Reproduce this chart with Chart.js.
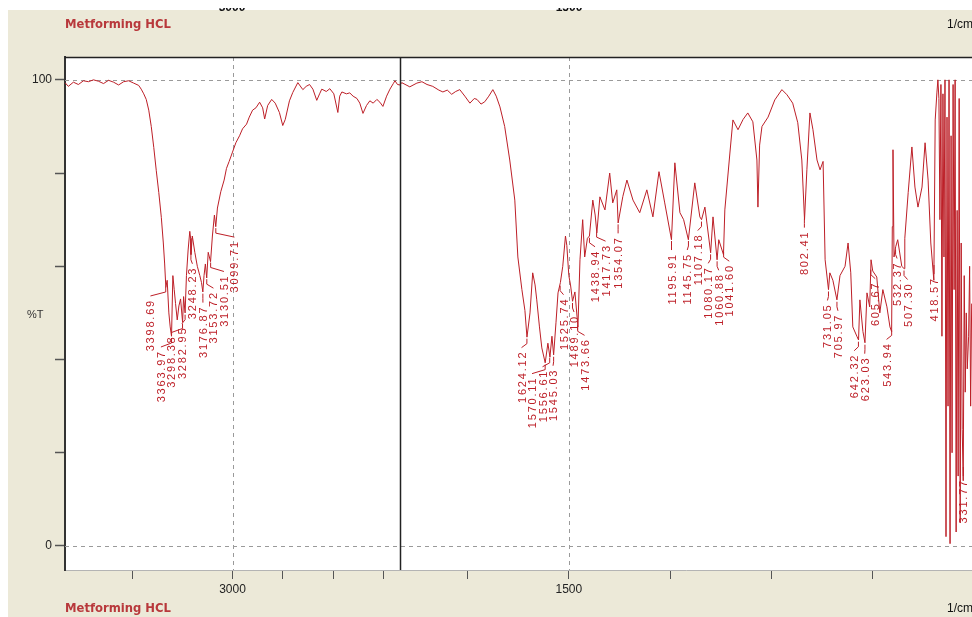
<!DOCTYPE html>
<html>
<head>
<meta charset="utf-8">
<title>Metforming HCL - IR spectrum</title>
<script src="https://cdn.jsdelivr.net/npm/chart.js@4.4.1/dist/chart.umd.min.js"></script>
<style>
  html, body { margin: 0; padding: 0; background: #fff; }
  #wrap { width: 972px; height: 617px; }
</style>
</head>
<body>
<div id="wrap"><canvas id="irChart" width="972" height="617"></canvas></div>
<script>
// wavenumber (1/cm) and transmittance (%T)
// left panel 4000-2000, right panel 2000-306 (expanded scale)
const wnLeft = [4000, 3980, 3950, 3920, 3890, 3860, 3830, 3800, 3770, 3740, 3710, 3680, 3650, 3620, 3590, 3560,
  3545, 3530, 3515, 3500, 3485, 3470, 3455, 3440, 3425, 3413, 3405, 3398, 3390, 3380, 3372, 3364, 3356, 3348,
  3340, 3330, 3320, 3310, 3298, 3292, 3283, 3275, 3265, 3255, 3250, 3248, 3240, 3225, 3210, 3195, 3185, 3177,
  3170, 3162, 3154, 3145, 3131, 3120, 3108, 3100, 3090, 3070, 3050, 3036, 3020, 3000, 2980, 2958, 2940, 2916,
  2900, 2880, 2860, 2838, 2820, 2808, 2790, 2766, 2745, 2720, 2700, 2685, 2660, 2640, 2610, 2580, 2560, 2540,
  2520, 2497, 2480, 2467, 2440, 2419, 2395, 2371, 2360, 2347, 2320, 2300, 2280, 2257, 2240, 2221, 2200, 2180,
  2160, 2138, 2120, 2102, 2080, 2060, 2040, 2030, 2015, 2000];
const tLeft = [99.4, 98.6, 99.5, 99.0, 99.8, 99.6, 100.0, 99.7, 99.2, 99.9, 99.5, 98.9, 99.6, 99.8, 99.3, 98.8,
  98.0, 97.0, 95.8, 93.5, 90.0, 85.5, 80.5, 75.8, 70.5, 65.0, 60.5, 55.5, 57.0, 50.0, 47.0, 45.0, 58.0, 55.0,
  52.0, 48.5, 51.5, 53.0, 48.0, 53.5, 50.0, 58.0, 63.5, 67.5, 66.0, 62.5, 66.5, 63.0, 60.0, 58.0, 56.5, 54.5,
  58.0, 60.5, 57.5, 63.0, 61.0, 66.5, 71.0, 68.5, 72.5, 76.0, 78.5, 81.0, 82.5, 84.5, 86.5, 88.0, 89.5, 90.5,
  92.0, 93.5, 94.0, 95.2, 94.0, 91.6, 94.5, 95.8, 95.0, 93.0, 90.2, 91.5, 95.5, 97.3, 99.4, 97.9, 98.6, 99.0,
  98.0, 95.6, 97.0, 98.0, 97.5, 98.1, 97.0, 93.0, 96.5, 97.4, 97.0, 97.2, 96.5, 96.0, 95.0, 92.8, 94.5, 95.5,
  95.0, 95.8, 95.2, 94.3, 96.5, 98.0, 99.2, 99.8, 99.0, 98.9];

const wnRight = [2000, 1995, 1971, 1950, 1935, 1920, 1903, 1885, 1873, 1860, 1847, 1835, 1823, 1808, 1793, 1780,
  1772, 1760, 1749, 1737, 1725, 1715, 1704, 1690, 1675, 1660, 1651, 1639, 1630, 1624, 1615, 1607, 1600, 1595,
  1587, 1580, 1570, 1562, 1556, 1550, 1545, 1538, 1532, 1525, 1518, 1510, 1506, 1500, 1495, 1489, 1482, 1473,
  1467, 1459, 1453, 1445, 1439, 1429, 1422, 1417, 1408, 1393, 1379, 1370, 1358, 1354, 1340, 1328, 1310, 1290,
  1269, 1251, 1233, 1216, 1196, 1186, 1171, 1160, 1146, 1127, 1112, 1107, 1097, 1080, 1073, 1061, 1056, 1042,
  1038, 1023, 1014, 999, 984, 970, 955, 943, 940, 935, 928, 910, 890, 869, 854, 837, 822, 810, 802, 795, 786,
  777, 765, 756, 747, 741, 731, 727, 718, 706, 697, 682, 673, 665, 659, 647, 642, 638, 629, 623, 617, 609, 605,
  600, 588, 579, 570, 558, 549, 544, 542, 540, 537, 532, 526, 514, 507, 505, 495, 484, 475, 466, 454, 445, 436,
  428, 419, 415, 410, 407, 404, 401, 398, 395, 392, 389, 386, 383, 380, 377, 374, 371, 368, 365, 362, 359, 356,
  353, 350, 347, 344, 341, 338, 335, 332, 329, 326, 323, 320, 316, 313, 310, 307];
const tRight = [98.9, 99.4, 98.5, 99.3, 99.6, 99.0, 98.6, 97.8, 97.4, 97.8, 96.9, 97.5, 97.9, 96.5, 95.0, 96.0,
  95.8, 94.8, 95.3, 96.5, 97.9, 96.5, 94.2, 90.0, 82.8, 74.2, 62.0, 55.0, 50.5, 44.8, 50.0, 58.6, 56.0, 52.8,
  47.0, 42.5, 39.3, 43.5, 40.5, 45.0, 41.0, 48.0, 54.3, 56.5, 60.0, 66.5, 64.5, 58.0, 56.0, 52.5, 54.5, 47.0,
  61.4, 70.0, 62.0, 66.0, 66.5, 74.2, 71.0, 67.2, 74.9, 72.1, 80.0, 73.6, 76.4, 69.3, 75.0, 78.5, 74.2, 71.5,
  76.4, 70.6, 80.3, 73.6, 65.7, 82.2, 71.5, 70.0, 65.7, 77.9, 70.6, 70.0, 72.7, 62.9, 70.6, 61.4, 65.7, 62.5,
  72.1, 84.3, 91.4, 89.3, 91.5, 92.9, 91.0, 82.8, 72.7, 86.0, 90.0, 92.0, 95.7, 97.9, 96.8, 95.0, 90.8, 82.8, 70.0, 80.7, 92.9,
  89.3, 82.8, 80.7, 82.5, 61.4, 55.0, 58.6, 57.0, 52.8, 58.0, 60.0, 65.0, 58.6, 47.0, 45.0, 44.2, 52.8, 46.0, 43.6, 54.3, 51.3, 61.4,
  59.0, 57.7, 50.0, 55.0, 51.3, 47.0, 46.0, 68.5, 85.0, 62.0, 64.2, 65.7, 60.0, 59.5, 66.0, 75.8, 85.6, 77.0, 72.7, 77.0, 86.5, 78.5,
  65.0, 57.0, 91.4, 97.2, 100.0, 96.0, 70.0, 99.0, 45.0, 97.0, 62.0, 100.0, 2.0, 92.0, 30.0, 100.0, 0.5, 88.0, 20.0, 99.0, 55.0, 100.0,
  3.0, 72.0, 15.0, 96.0, 5.0, 65.0, 25.0, 14.0, 58.0, 33.0, 50.0, 38.0, 45.0, 60.0, 30.0, 52.0];

// peak picks printed on the spectrum
const peaksLeft = [3398.69, 3363.97, 3298.38, 3282.95, 3248.23, 3176.87, 3153.72, 3130.51, 3099.71];
const peaksRight = [1624.12, 1570.11, 1556.61, 1545.03, 1525.74, 1489.10, 1473.66, 1438.94, 1417.73, 1354.07,
  1195.91, 1145.75, 1107.18, 1080.17, 1060.88, 1041.60, 802.41, 731.05, 705.97, 642.32, 623.03, 605.67,
  543.94, 532.37, 507.30, 418.57, 331.77];

const xTicksLeft = [3600, 3000, 2700, 2400, 2100];
const xTicksRight = [1800, 1500, 1200, 900, 600];
const xLabelled = [3000, 1500];
const yTicks = [0, 20, 40, 60, 80, 100];
const yLabelled = [0, 100];
const xGridLines = [3000, 1500];
const yGridLines = [0, 100];

const RED = '#bd1f27';
const BEIGE = '#ece9d8';

function toPoints(xs, ys) {
  return xs.map((x, i) => ({ x: x, y: ys[i] }));
}

// linear interpolation of %T at a wavenumber (arrays run high -> low)
function tAt(xs, ys, w) {
  for (let i = 0; i < xs.length - 1; i++) {
    if (xs[i] >= w && w >= xs[i + 1]) {
      const f = (xs[i] - w) / (xs[i] - xs[i + 1]);
      return ys[i] + f * (ys[i + 1] - ys[i]);
    }
  }
  return ys[ys.length - 1];
}

// push label columns apart so they don't overlap, keeping each cluster centred
function spread(xs, gap) {
  const groups = [];
  xs.forEach(x => {
    groups.push({ sum: x, n: 1, start: x });
    while (groups.length > 1) {
      const b = groups[groups.length - 1];
      const a = groups[groups.length - 2];
      if (a.start + a.n * gap > b.start) {
        a.sum += b.sum;
        a.n += b.n;
        a.start = a.sum / a.n - (a.n - 1) * gap / 2;
        groups.pop();
      } else break;
    }
  });
  const out = [];
  groups.forEach(g => { for (let k = 0; k < g.n; k++) out.push(g.start + k * gap); });
  return out;
}

const decor = {
  id: 'decor',
  beforeDraw(chart) {
    const { ctx, width, height } = chart;
    ctx.save();
    ctx.fillStyle = '#fff';
    ctx.fillRect(0, 0, width, height);
    ctx.fillStyle = BEIGE;
    ctx.fillRect(8, 10, width - 8, height - 10);

    const a = chart.chartArea;
    ctx.fillStyle = '#fff';
    ctx.fillRect(a.left, a.top, a.right - a.left, a.bottom - a.top);

    // cut-off axis numbers from the page above
    ctx.save();
    ctx.beginPath();
    ctx.rect(0, 8, width, 3);
    ctx.clip();
    ctx.fillStyle = '#111';
    ctx.font = 'bold 12px "Liberation Sans", Arial, sans-serif';
    ctx.textAlign = 'center';
    ctx.textBaseline = 'alphabetic';
    ctx.fillText('3000', 232, 11);
    ctx.fillText('1500', 569, 11);
    ctx.restore();

    ctx.fillStyle = '#b8383b';
    ctx.font = 'bold 11.6px "DejaVu Sans", Verdana, sans-serif';
    ctx.textAlign = 'left';
    ctx.textBaseline = 'middle';
    ctx.fillText('Metforming HCL', 65, 25);
    ctx.fillText('Metforming HCL', 65, 609);

    ctx.fillStyle = '#111';
    ctx.font = '12px "Liberation Sans", Arial, sans-serif';
    ctx.textAlign = 'right';
    ctx.fillText('1/cm', 973, 25);
    ctx.fillText('1/cm', 973, 609);

    ctx.fillStyle = '#333';
    ctx.font = '11px "Liberation Sans", Arial, sans-serif';
    ctx.textAlign = 'left';
    ctx.fillText('%T', 27, 315);
    ctx.restore();
  },
  beforeDatasetsDraw(chart) {
    const { ctx } = chart;
    const a = chart.chartArea;
    const y = chart.scales.y, xL = chart.scales.xL, xR = chart.scales.xR;
    ctx.save();
    ctx.strokeStyle = '#9a9a9a';
    ctx.lineWidth = 1;
    ctx.setLineDash([4, 4]);
    yGridLines.forEach(v => {
      const py = Math.round(y.getPixelForValue(v)) + 0.5;
      ctx.beginPath();
      ctx.moveTo(a.left, py);
      ctx.lineTo(a.right, py);
      ctx.stroke();
    });
    xGridLines.forEach(v => {
      const sc = v >= 2000 ? xL : xR;
      const px = Math.round(sc.getPixelForValue(v)) + 0.5;
      ctx.beginPath();
      ctx.moveTo(px, a.top);
      ctx.lineTo(px, a.bottom);
      ctx.stroke();
    });
    ctx.restore();
  },
  afterDatasetsDraw(chart) {
    const { ctx } = chart;
    const a = chart.chartArea;
    const y = chart.scales.y, xL = chart.scales.xL, xR = chart.scales.xR;
    ctx.save();
    // frame: top edge and the 2000 1/cm scale break
    ctx.strokeStyle = '#222';
    ctx.lineWidth = 1.5;
    ctx.beginPath();
    ctx.moveTo(a.left, a.top + 0.5);
    ctx.lineTo(a.right, a.top + 0.5);
    ctx.stroke();
    const bx = Math.round(xR.getPixelForValue(2000)) + 0.5;
    ctx.beginPath();
    ctx.moveTo(bx, a.top);
    ctx.lineTo(bx, a.bottom);
    ctx.stroke();

    // peak labels
    ctx.font = '11px "Liberation Sans", Arial, sans-serif';
    if ('letterSpacing' in ctx) ctx.letterSpacing = '1.8px';
    ctx.fillStyle = RED;
    ctx.strokeStyle = RED;
    ctx.lineWidth = 1;
    const groups = [
      { peaks: peaksLeft, sc: xL, xs: wnLeft, ys: tLeft },
      { peaks: peaksRight, sc: xR, xs: wnRight, ys: tRight }
    ];
    groups.forEach(g => {
      const pts = g.peaks.map(p => ({
        p: p,
        px: g.sc.getPixelForValue(p),
        py: y.getPixelForValue(tAt(g.xs, g.ys, p))
      })).sort((m, n) => m.px - n.px);
      const lx = spread(pts.map(o => o.px), 10.5);
      pts.forEach((o, i) => {
        const top = o.py + 14;
        ctx.beginPath();
        ctx.moveTo(o.px, o.py + 2);
        ctx.lineTo(o.px, o.py + 7);
        ctx.lineTo(lx[i], o.py + 11);
        ctx.stroke();
        ctx.save();
        ctx.translate(lx[i] + 4, top);
        ctx.rotate(-Math.PI / 2);
        ctx.textAlign = 'right';
        ctx.textBaseline = 'alphabetic';
        ctx.fillText(o.p.toFixed(2), 0, 0);
        ctx.restore();
      });
    });
    ctx.restore();
  }
};

const tickFont = { family: '"Liberation Sans", Arial, sans-serif', size: 12 };

function xAxis(min, max, ticks, weight) {
  return {
    type: 'linear',
    position: 'bottom',
    stack: 'wn',
    stackWeight: weight,
    reverse: true,
    min: min,
    max: max,
    afterBuildTicks: s => { s.ticks = ticks.map(v => ({ value: v })); },
    afterFit: s => { s.height = 47; },
    grid: { drawOnChartArea: false, drawTicks: true, tickLength: 9, tickColor: '#555', tickWidth: 1 },
    border: { color: '#b4b4b4', width: 1 },
    ticks: {
      autoSkip: false,
      maxRotation: 0,
      padding: 3,
      color: '#222',
      font: tickFont,
      callback: v => xLabelled.includes(v) ? String(v) : ''
    }
  };
}

new Chart(document.getElementById('irChart'), {
  type: 'line',
  data: {
    datasets: [
      { data: toPoints(wnLeft, tLeft), xAxisID: 'xL', yAxisID: 'y', borderColor: RED, borderWidth: 1, pointRadius: 0, tension: 0, fill: false },
      { data: toPoints(wnRight, tRight), xAxisID: 'xR', yAxisID: 'y', borderColor: RED, borderWidth: 1, pointRadius: 0, tension: 0, fill: false }
    ]
  },
  options: {
    responsive: false,
    animation: false,
    devicePixelRatio: 1,
    layout: { padding: { left: 0, top: 57, right: 0, bottom: 0 } },
    plugins: { legend: { display: false }, tooltip: { enabled: false }, title: { display: false } },
    scales: {
      xL: xAxis(2000, 4000, xTicksLeft, 335),
      xR: xAxis(306, 2000, xTicksRight, 572),
      y: {
        type: 'linear',
        position: 'left',
        min: -5.15,
        max: 104.9,
        afterBuildTicks: s => { s.ticks = yTicks.map(v => ({ value: v })); },
        afterFit: s => { s.width = 65; },
        grid: { drawOnChartArea: false, drawTicks: true, tickLength: 10, tickColor: '#555', tickWidth: 1.5 },
        border: { color: '#333', width: 2 },
        ticks: {
          padding: 3,
          color: '#222',
          font: tickFont,
          callback: v => yLabelled.includes(v) ? String(v) : ''
        }
      }
    }
  },
  plugins: [decor]
});
</script>
</body>
</html>
